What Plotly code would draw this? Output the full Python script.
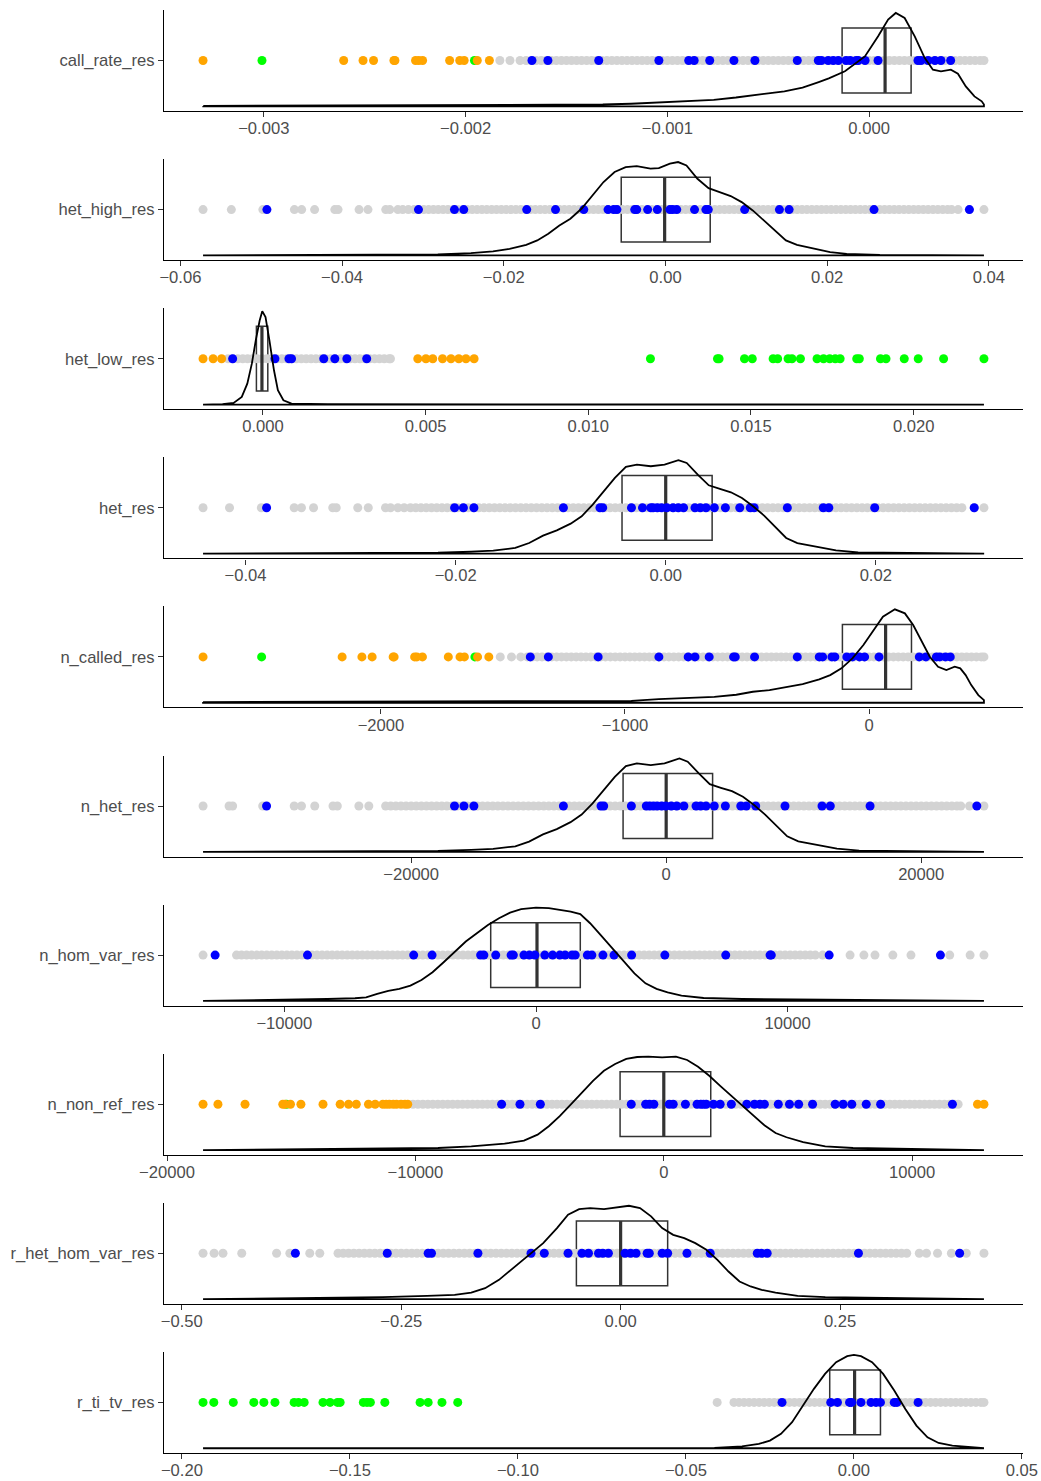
import plotly.graph_objects as go

# ---------------- data ----------------
variables = ["call_rate_res", "het_high_res", "het_low_res", "het_res", "n_called_res",
             "n_het_res", "n_hom_var_res", "n_non_ref_res", "r_het_hom_var_res", "r_ti_tv_res"]

# panel 1: call_rate_res
grey_1 = [-183e-5, -178e-5, -173e-5, -170e-5, -167.5e-5, -165e-5, -162.5e-5, -160e-5, -157.5e-5, -155e-5,
          -152.5e-5, -150e-5, -147.5e-5, -145e-5, -142.5e-5, -140e-5, -137.5e-5, -135e-5, -132.5e-5, -130e-5,
          -127.5e-5, -125e-5, -122.5e-5, -120e-5, -117.5e-5, -115e-5, -112.5e-5, -110e-5, -107.5e-5, -105e-5,
          -102.5e-5, -100e-5, -97.5e-5, -95e-5, -92.5e-5, -90e-5, -87.5e-5, -85e-5, -82.5e-5, -80e-5, -77.5e-5,
          -75e-5, -72.5e-5, -70e-5, -67.5e-5, -65e-5, -62.5e-5, -60e-5, -57.5e-5, -55e-5, -52.5e-5, -50e-5,
          -47.5e-5, -45e-5, -42.5e-5, -40e-5, -37.5e-5, -35e-5, -32.5e-5, -30e-5, -27.5e-5, -25e-5, -22.5e-5,
          -20e-5, -17.5e-5, -15e-5, -12.5e-5, -10e-5, -7.5e-5, -5e-5, -2.5e-5, 0.0, 2.5e-5, 5e-5, 7.5e-5, 10e-5,
          12.5e-5, 15e-5, 17.5e-5, 20e-5, 22.5e-5, 25e-5, 27.5e-5, 30e-5, 32.5e-5, 35e-5, 37.5e-5, 40e-5,
          42.5e-5, 45e-5, 47.5e-5, 50e-5, 52.5e-5, 55e-5, 56.9e-5]
blue_1 = [-0.001671, -0.001592, -0.00134, -0.001042, -0.000894, -0.000867, -0.00079, -0.00067, -0.000566,
          -0.000356, -0.000252, -0.000237, -0.000203, -0.000178, -0.000153, -0.000114, -0.000094, -0.000064,
          -0.000054, -0.00002, 0.000044, 0.000242, 0.000257, 0.000292, 0.000326, 0.000356, 0.000404]
orange_1 = [-0.003301, -0.002604, -0.002508, -0.002456, -0.002355, -0.00235, -0.002248, -0.002232, -0.002213,
            -0.002079, -0.002029, -0.002007, -0.001942, -0.001882]
green_1 = [-0.003009, -0.001956]
box_1 = [-0.00064, -0.000134, 0.000079, 0.000208, 0.000569]
dens_x_1 = [-0.0033, -0.00241, -0.00159, -0.00132, -0.00118, -0.00104, -0.00091, -0.00077, -0.00066, -0.00058,
            -0.0005, -0.00042, -0.00033, -0.00025, -0.0002, -0.00012, -0.000021, 0.0000445, 0.000094, 0.000132,
            0.000176, 0.000226, 0.000275, 0.000316, 0.000356, 0.000405, 0.00044, 0.000479, 0.000522, 0.000558,
            0.000569]
dens_h_1 = [0.005, 0.01, 0.015, 0.02, 0.028, 0.045, 0.053, 0.07, 0.095, 0.12, 0.14, 0.16, 0.2, 0.26, 0.3, 0.375,
            0.535, 0.75, 0.93, 1.0, 0.946, 0.75, 0.52, 0.393, 0.375, 0.393, 0.35, 0.214, 0.107, 0.054, 0.02]
ticks_1 = [-0.003, -0.002, -0.001, 0.0]
labels_1 = ["\u22120.003", "\u22120.002", "\u22120.001", "0.000"]

# panel 2: het_high_res
grey_2 = [-572e-4, -537e-4, -498e-4, -459e-4, -450e-4, -434e-4, -409e-4, -405e-4, -379e-4, -368e-4, -346e-4,
          -341e-4, -331e-4, -325e-4, -318e-4,
          -311e-4, -305e-4, -299e-4, -293e-4, -287e-4, -281e-4, -275e-4, -269e-4, -263e-4, -257e-4, -251e-4,
          -245e-4, -239e-4, -233e-4, -227e-4, -221e-4, -215e-4, -209e-4, -203e-4, -197e-4, -191e-4, -185e-4,
          -179e-4, -173e-4, -167e-4, -161e-4, -155e-4, -149e-4, -143e-4, -137e-4, -131e-4, -125e-4, -119e-4,
          -113e-4, -107e-4, -101e-4, -95e-4, -89e-4, -83e-4, -77e-4, -71e-4, -65e-4, -59e-4, -53e-4, -47e-4,
          -41e-4, -35e-4, -29e-4, -23e-4, -17e-4, -11e-4, -5e-4, 1e-4, 7e-4, 13e-4, 19e-4, 25e-4, 31e-4, 37e-4,
          43e-4, 49e-4, 55e-4, 61e-4, 67e-4, 73e-4, 79e-4, 85e-4, 91e-4, 97e-4, 103e-4, 109e-4, 115e-4, 121e-4,
          127e-4, 133e-4, 139e-4, 145e-4, 151e-4, 157e-4, 163e-4, 169e-4, 175e-4, 181e-4, 187e-4, 193e-4,
          199e-4, 205e-4, 211e-4, 217e-4, 223e-4, 229e-4, 235e-4, 241e-4, 247e-4, 253e-4, 259e-4, 265e-4,
          271e-4, 277e-4, 283e-4, 289e-4, 295e-4, 301e-4, 307e-4, 313e-4, 319e-4, 325e-4, 331e-4, 337e-4,
          343e-4, 349e-4, 354e-4, 362e-4, 376e-4, 394e-4]
blue_2 = [-0.0493, -0.03055, -0.0261, -0.02495, -0.01716, -0.0136, -0.0101, -0.0071, -0.0064, -0.006, -0.0038,
          -0.00355, -0.0022, -0.001, 0.00055, 0.0009, 0.0014, 0.0036, 0.005, 0.0053, 0.0098, 0.0141, 0.0153,
          0.0258, 0.0376]
orange_2 = []
green_2 = []
box_2 = [-0.0219, -0.00547, -0.0001, 0.00554, 0.0219]
dens_x_2 = [-0.0572, -0.035, -0.02816, -0.02406, -0.02133, -0.01928, -0.01722, -0.01586, -0.01449, -0.01312,
            -0.01176, -0.01039, -0.00902, -0.00766, -0.00629, -0.00492, -0.00355, -0.00185, -0.00082, 0.00055,
            0.00157, 0.0026, 0.00396, 0.00533, 0.0067, 0.00807, 0.00943, 0.0108, 0.01217, 0.01353, 0.0149,
            0.01627, 0.01832, 0.02037, 0.02242, 0.02652, 0.0394]
dens_h_2 = [0.0, 0.004, 0.011, 0.025, 0.043, 0.071, 0.114, 0.161, 0.232, 0.321, 0.393, 0.5, 0.643, 0.786, 0.893,
            0.946, 0.957, 0.929, 0.936, 0.982, 1.0, 0.964, 0.821, 0.721, 0.679, 0.636, 0.571, 0.482, 0.375, 0.268,
            0.161, 0.114, 0.079, 0.036, 0.018, 0.007, 0.0]
ticks_2 = [-0.06, -0.04, -0.02, 0.0, 0.02, 0.04]
labels_2 = ["\u22120.06", "\u22120.04", "\u22120.02", "0.00", "0.02", "0.04"]

# panel 3: het_low_res
grey_3 = [-107e-5, -92e-5, -77e-5, -62e-5, -47e-5, -32e-5, -17e-5, -2e-5, 13e-5, 28e-5, 43e-5, 58e-5, 73e-5,
          88e-5, 103e-5, 118e-5, 133e-5, 148e-5, 163e-5, 178e-5, 193e-5, 208e-5, 223e-5, 238e-5, 253e-5, 268e-5,
          283e-5, 298e-5, 313e-5, 328e-5, 343e-5, 358e-5, 373e-5, 388e-5, 392e-5]
blue_3 = [-0.00093, 0.00037, 0.0008, 0.00088, 0.00187, 0.00221, 0.00258, 0.00319]
orange_3 = [-0.00184, -0.00153, -0.00127, 0.00476, 0.00501, 0.00522, 0.00552, 0.00578, 0.00602, 0.00624, 0.00649]
green_3 = [0.01191, 0.01397, 0.01402, 0.0148, 0.01504, 0.01568, 0.01582, 0.01614, 0.01626, 0.01652, 0.01703,
           0.01723, 0.01742, 0.01759, 0.01774, 0.01825, 0.01833, 0.01898, 0.01915, 0.01971, 0.02014, 0.02092,
           0.02216]
box_3 = [-0.00073, -0.0002, -0.00003, 0.00015, 0.00066]
dens_x_3 = [-0.00184, -0.00124, -0.0009, -0.00065, -0.00048, -0.00034, -0.00022, -0.0001, -0.00002, 0.00008,
            0.0002, 0.00034, 0.00046, 0.00063, 0.00088, 0.002, 0.02216]
dens_h_3 = [0.0, 0.004, 0.018, 0.082, 0.224, 0.438, 0.687, 0.9, 1.0, 0.936, 0.687, 0.367, 0.153, 0.046, 0.011,
            0.004, 0.0]
ticks_3 = [0.0, 0.005, 0.01, 0.015, 0.02]
labels_3 = ["0.000", "0.005", "0.010", "0.015", "0.020"]

# panel 4: het_res
grey_4 = [-440.5e-4, -415.3e-4, -385e-4, -353.7e-4, -346.8e-4, -335.3e-4, -317e-4, -313.7e-4, -293.2e-4,
          -283.2e-4, -266.8e-4, -262e-4, -255e-4, -249e-4,
          -243e-4, -238e-4, -233e-4, -228e-4, -223e-4, -218e-4, -213e-4, -208e-4, -203e-4, -198e-4, -193e-4,
          -188e-4, -183e-4, -178e-4, -173e-4, -168e-4, -163e-4, -158e-4, -153e-4, -148e-4, -143e-4, -138e-4,
          -133e-4, -128e-4, -123e-4, -118e-4, -113e-4, -108e-4, -103e-4, -98e-4, -93e-4, -88e-4, -83e-4, -78e-4,
          -73e-4, -68e-4, -63e-4, -58e-4, -53e-4, -48e-4, -43e-4, -38e-4, -33e-4, -28e-4, -23e-4, -18e-4, -13e-4,
          -8e-4, -3e-4, 2e-4, 7e-4, 12e-4, 17e-4, 22e-4, 27e-4, 32e-4, 37e-4, 42e-4, 47e-4, 52e-4, 57e-4, 62e-4,
          67e-4, 72e-4, 77e-4, 82e-4, 87e-4, 92e-4, 97e-4, 102e-4, 107e-4, 112e-4, 117e-4, 122e-4, 127e-4,
          132e-4, 137e-4, 142e-4, 147e-4, 152e-4, 157e-4, 162e-4, 167e-4, 172e-4, 177e-4, 182e-4, 187e-4,
          192e-4, 197e-4, 202e-4, 207e-4, 212e-4, 217e-4, 222e-4, 227e-4, 232e-4, 237e-4, 242e-4, 247e-4,
          252e-4, 257e-4, 262e-4, 267e-4, 272e-4, 277e-4, 282e-4, 294e-4, 303e-4]
blue_4 = [-0.038, -0.0201, -0.01926, -0.01826, -0.00974, -0.00626, -0.006, -0.00326, -0.00221, -0.00142, -0.0012,
          -0.0008, -0.0004, 0.0001, 0.0007, 0.0012, 0.0017, 0.00279, 0.0033, 0.00384, 0.00463, 0.00568, 0.00705,
          0.00805, 0.00842, 0.01158, 0.015, 0.01553, 0.0199, 0.02937]
orange_4 = []
green_4 = []
box_4 = [-0.01684, -0.00416, 0.0, 0.00442, 0.0171]
dens_x_4 = [-0.04405, -0.02695, -0.02168, -0.01853, -0.01642, -0.01432, -0.013, -0.01168, -0.01037, -0.00905,
            -0.008, -0.00695, -0.00589, -0.00484, -0.00379, -0.00274, -0.00142, -0.00011, 0.00121, 0.002,
            0.00305, 0.0041, 0.00516, 0.00621, 0.00726, 0.00832, 0.00937, 0.01042, 0.01147, 0.01253, 0.01411,
            0.01621, 0.01832, 0.02305, 0.03032]
dens_h_4 = [0.0, 0.004, 0.011, 0.021, 0.032, 0.061, 0.114, 0.193, 0.25, 0.321, 0.4, 0.525, 0.668, 0.811, 0.929,
            0.954, 0.936, 0.954, 1.0, 0.971, 0.846, 0.732, 0.693, 0.657, 0.596, 0.507, 0.407, 0.293, 0.168, 0.114,
            0.079, 0.036, 0.014, 0.007, 0.0]
ticks_4 = [-0.04, -0.02, 0.0, 0.02]
labels_4 = ["\u22120.04", "\u22120.02", "0.00", "0.02"]

# panel 5: n_called_res
grey_5 = [-1511, -1465, -1427, -1400, -1380, -1360, -1340, -1320, -1300, -1280, -1260, -1240, -1220, -1200,
          -1180, -1160, -1140, -1120, -1100, -1080, -1060, -1040, -1020, -1000, -980, -960, -940, -920, -900,
          -880, -860, -840, -820, -800, -780, -760, -740, -720, -700, -680, -660, -640, -620, -600, -580, -560,
          -540, -520, -500, -480, -460, -440, -420, -400, -380, -360, -340, -320, -300, -280, -260, -240, -220,
          -200, -180, -160, -140, -120, -100, -80, -60, -40, -20, 0, 20, 40, 60, 80, 100, 120, 140, 160, 180, 200,
          220, 240, 260, 280, 300, 320, 340, 360, 380, 400, 420, 440, 460, 471]
blue_5 = [-1388, -1314, -1110, -861, -741, -713, -655, -555, -548, -469, -294, -204, -190, -152, -140, -91, -68,
          -39, -18, 41, 206, 233, 276, 290, 313, 333]
orange_5 = [-2729, -2159, -2078, -2036, -1950, -1946, -1862, -1853, -1830, -1724, -1676, -1658, -1604, -1558]
green_5 = [-2489, -1615]
box_5 = [-535, -109, 68, 174, 471]
dens_x_5 = [-2729, -1540, -1087, -974, -861, -747, -634, -544, -476, -408, -340, -272, -204, -159, -113, -68, -23,
            23, 57, 106, 147, 181, 215, 249, 283, 317, 351, 374, 396, 419, 448, 469, 471]
dens_h_5 = [0.007, 0.011, 0.018, 0.021, 0.039, 0.05, 0.064, 0.086, 0.118, 0.136, 0.164, 0.2, 0.25, 0.296, 0.368,
            0.475, 0.618, 0.796, 0.921, 1.0, 0.957, 0.832, 0.654, 0.493, 0.386, 0.35, 0.386, 0.368, 0.296, 0.189,
            0.082, 0.039, 0.029]
ticks_5 = [-2000, -1000, 0]
labels_5 = ["\u22122000", "\u22121000", "0"]

# panel 6: n_het_res
grey_6 = [-36320, -34280, -34000, -31640, -29170, -28600, -27560, -26130, -25790, -24100, -23320,
          -22000, -21600, -21200, -20800, -20400, -20000, -19600, -19200, -18800, -18400, -18000, -17600, -17200,
          -16800, -16400, -16000, -15600, -15200, -14800, -14400, -14000, -13600, -13200, -12800, -12400, -12000,
          -11600, -11200, -10800, -10400, -10000, -9600, -9200, -8800, -8400, -8000, -7600, -7200, -6800, -6400,
          -6000, -5600, -5200, -4800, -4400, -4000, -3600, -3200, -2800, -2400, -2000, -1600, -1200, -800, -400,
          0, 400, 800, 1200, 1600, 2000, 2400, 2800, 3200, 3600, 4000, 4400, 4800, 5200, 5600, 6000, 6400, 6800,
          7200, 7600, 8000, 8400, 8800, 9200, 9600, 10000, 10400, 10800, 11200, 11600, 12000, 12400, 12800,
          13200, 13600, 14000, 14400, 14800, 15200, 15600, 16000, 16400, 16800, 17200, 17600, 18000, 18400,
          18800, 19200, 19600, 20000, 20400, 20800, 21200, 21600, 22000, 22400, 22800, 23100, 23790, 24920]
blue_6 = [-31340, -16600, -15860, -15080, -8060, -5110, -4900, -2730, -1560, -1300, -1000, -700, -350, -30, 400,
          830, 1390, 2340, 2690, 3120, 3770, 4640, 5850, 6280, 7020, 9320, 12220, 12870, 15990, 24360]
orange_6 = []
green_6 = []
box_6 = [-13830, -3380, 0, 3640, 14170]
dens_x_6 = [-36320, -22230, -17900, -15300, -13570, -11830, -10750, -9660, -8580, -7500, -6630, -5770, -4900,
            -4030, -3160, -2300, -1210, -130, 1040, 1690, 2560, 3420, 4290, 5160, 6020, 6890, 7760, 8620, 9490,
            10360, 11660, 13390, 15130, 18940, 24920]
dens_h_6 = [0.0, 0.004, 0.011, 0.021, 0.032, 0.06, 0.11, 0.187, 0.244, 0.318, 0.399, 0.519, 0.664, 0.802, 0.919,
            0.947, 0.929, 0.947, 1.0, 0.965, 0.841, 0.724, 0.686, 0.65, 0.59, 0.502, 0.399, 0.286, 0.166, 0.113,
            0.078, 0.035, 0.014, 0.007, 0.0]
ticks_6 = [-20000, 0, 20000]
labels_6 = ["\u221220000", "0", "20000"]

# panel 7: n_hom_var_res
grey_7 = [-13230, -11900, -11700, -11500, -11300, -11100, -10900, -10700, -10500, -10300, -10100, -9900, -9700,
          -9500, -9300, -9100, -8900, -8700, -8500, -8300, -8100, -7900, -7700, -7500, -7300, -7100, -6900,
          -6700, -6500, -6300, -6100, -5900, -5700, -5500, -5300, -5100, -4900, -4700, -4500, -4300, -4100,
          -3900, -3700, -3500, -3300, -3100, -2900, -2700, -2500, -2300, -2100, -1900, -1700, -1500, -1300,
          -1100, -900, -700, -500, -300, -100, 100, 300, 500, 700, 900, 1100, 1300, 1500, 1700, 1900, 2100, 2300,
          2500, 2700, 2900, 3100, 3300, 3500, 3700, 3900, 4100, 4300, 4500, 4700, 4900, 5100, 5300, 5500, 5700,
          5900, 6100, 6300, 6500, 6700, 6900, 7100, 7300, 7500, 7700, 7900, 8100, 8300, 8500, 8700, 8900, 9100,
          9300, 9500, 9700, 9900, 10100, 10300, 10500, 10700, 10900, 11100, 11390, 12480, 13030, 13470, 14180,
          14900, 16440, 17250, 17800]
blue_7 = [-12750, -9080, -4860, -4130, -2200, -2070, -1600, -990, -900, -480, -260, -40, 350, 660, 950, 1160,
          1430, 1560, 2040, 2220, 2660, 3100, 3800, 5120, 7540, 9300, 9350, 11650, 16070]
orange_7 = []
green_7 = []
box_7 = [-7080, -1800, 40, 1760, 7030]
dens_x_7 = [-13230, -9390, -8290, -7190, -6750, -6310, -5870, -5430, -4990, -4550, -4110, -3670, -3230, -2790,
            -2350, -1910, -1470, -1030, -590, 0, 510, 950, 1380, 1760, 2150, 2590, 3030, 3470, 3910, 4350, 4790,
            5230, 5780, 6660, 8200, 11500, 17800]
dens_h_7 = [0.0, 0.011, 0.021, 0.029, 0.039, 0.075, 0.107, 0.129, 0.164, 0.225, 0.307, 0.414, 0.529, 0.636,
            0.725, 0.814, 0.886, 0.946, 0.982, 1.0, 0.993, 0.975, 0.957, 0.929, 0.832, 0.7, 0.564, 0.421, 0.296,
            0.189, 0.129, 0.093, 0.057, 0.032, 0.021, 0.014, 0.007]
ticks_7 = [-10000, 0, 10000]
labels_7 = ["\u221210000", "0", "10000"]

# panel 8: n_non_ref_res
grey_8 = [-10100, -9900, -9700, -9500, -9300, -9100, -8900, -8700, -8500, -8300, -8100, -7900, -7700, -7500,
          -7300, -7100, -6900, -6700, -6500, -6300, -6100, -5900, -5700, -5500, -5300, -5100, -4900, -4700,
          -4500, -4300, -4100, -3900, -3700, -3500, -3300, -3100, -2900, -2700, -2500, -2300, -2100, -1900,
          -1700, -1500, -1300, -1100, -900, -700, -500, -300, -100, 100, 300, 500, 700, 900, 1100, 1300, 1500,
          1700, 1900, 2100, 2300, 2500, 2700, 2900, 3100, 3300, 3500, 3700, 3900, 4100, 4300, 4500, 4700, 4900,
          5100, 5300, 5500, 5700, 5900, 6100, 6300, 6500, 6700, 6900, 7100, 7300, 7500, 7700, 7900, 8100, 8300,
          8500, 8700, 8900, 9100, 9300, 9500, 9700, 9900, 10100, 10300, 10500, 10700, 10900, 11100, 11300,
          11500, 11700, 11850]
blue_8 = [-6530, -5790, -4970, -1310, -730, -580, -400, 220, 380, 870, 1340, 1490, 1600, 1710, 2000, 2270, 2720,
          3340, 3650, 3870, 4050, 4610, 5060, 5430, 5990, 6900, 7220, 7570, 8150, 8730, 11620]
orange_8 = [-18550, -17950, -16860, -15340, -15250, -15030, -14610, -13720, -13030, -12690, -12380, -11890,
            -11620, -11310, -11180, -11050, -10890, -10760, -10580, -10420, -10310, 12630, 12890]
green_8 = [-15190]
box_8 = [-7190, -1760, 0, 1890, 6840]
dens_x_8 = [-18550, -11310, -9090, -7750, -6410, -5630, -5080, -4630, -4190, -3740, -3300, -2850, -2410, -1960,
            -1510, -1070, -620, -70, 490, 940, 1380, 1830, 2270, 2720, 3160, 3610, 4050, 4500, 4940, 5610, 6500,
            7620, 9840, 12890]
dens_h_8 = [0.0, 0.011, 0.022, 0.04, 0.068, 0.101, 0.165, 0.255, 0.363, 0.489, 0.615, 0.741, 0.849, 0.921, 0.975,
            0.996, 1.0, 0.993, 1.0, 0.964, 0.892, 0.795, 0.687, 0.579, 0.471, 0.363, 0.266, 0.183, 0.137, 0.086,
            0.04, 0.022, 0.011, 0.0]
ticks_8 = [-20000, -10000, 0, 10000]
labels_8 = ["\u221220000", "\u221210000", "0", "10000"]

# panel 9: r_het_hom_var_res
grey_9 = [-475.8e-3, -463.2e-3, -453.1e-3, -431.7e-3, -392e-3, -376.9e-3, -354.2e-3, -342.8e-3,
          -322e-3, -316e-3, -310e-3, -304e-3, -298e-3, -292e-3, -286e-3, -280e-3, -274e-3, -268e-3, -262e-3,
          -256e-3, -250e-3, -244e-3, -238e-3, -232e-3, -226e-3, -220e-3, -214e-3, -208e-3, -202e-3, -196e-3,
          -190e-3, -184e-3, -178e-3, -172e-3, -166e-3, -160e-3, -154e-3, -148e-3, -142e-3, -136e-3, -130e-3,
          -124e-3, -118e-3, -112e-3, -106e-3, -100e-3, -94e-3, -88e-3, -82e-3, -76e-3, -70e-3, -64e-3, -58e-3,
          -52e-3, -46e-3, -40e-3, -34e-3, -28e-3, -22e-3, -16e-3, -10e-3, -4e-3, 2e-3, 8e-3, 14e-3, 20e-3, 26e-3,
          32e-3, 38e-3, 44e-3, 50e-3, 56e-3, 62e-3, 68e-3, 74e-3, 80e-3, 86e-3, 92e-3, 98e-3, 104e-3, 110e-3,
          116e-3, 122e-3, 128e-3, 134e-3, 140e-3, 146e-3, 152e-3, 158e-3, 164e-3, 170e-3, 176e-3, 182e-3,
          188e-3, 194e-3, 200e-3, 206e-3, 212e-3, 218e-3, 224e-3, 230e-3, 236e-3, 242e-3, 248e-3, 254e-3,
          260e-3, 266e-3, 272e-3, 278e-3, 284e-3, 290e-3, 296e-3, 302e-3, 308e-3, 314e-3, 320e-3, 326e-3,
          340.3e-3, 348.5e-3, 361.1e-3, 376.9e-3, 393.9e-3, 414e-3]
blue_9 = [-0.3706, -0.2659, -0.2193, -0.2155, -0.1626, -0.1021, -0.087, -0.0599, -0.0441, -0.0366, -0.0252,
          -0.0202, -0.0139, 0.005, 0.0113, 0.0176, 0.0302, 0.0327, 0.0473, 0.0536, 0.0756, 0.1021, 0.1557, 0.1607,
          0.167, 0.271, 0.3863]
orange_9 = []
green_9 = []
box_9 = [-0.2029, -0.0504, 0.0, 0.0536, 0.2048]
dens_x_9 = [-0.4758, -0.334, -0.271, -0.2206, -0.1891, -0.1702, -0.1544, -0.1386, -0.1229, -0.1071, -0.0882,
            -0.0725, -0.0599, -0.0473, -0.0347, -0.0189, -0.0032, 0.0095, 0.0221, 0.0347, 0.0473, 0.0599, 0.0725,
            0.0851, 0.0977, 0.1103, 0.1229, 0.1355, 0.1481, 0.1607, 0.1765, 0.2017, 0.2332, 0.2962, 0.414]
dens_h_9 = [0.0, 0.011, 0.021, 0.036, 0.046, 0.071, 0.118, 0.207, 0.332, 0.457, 0.6, 0.761, 0.904, 0.964, 0.975,
            0.964, 0.986, 1.0, 0.975, 0.886, 0.761, 0.689, 0.654, 0.6, 0.529, 0.421, 0.296, 0.189, 0.136, 0.1,
            0.071, 0.036, 0.021, 0.014, 0.007]
ticks_9 = [-0.5, -0.25, 0.0, 0.25]
labels_9 = ["\u22120.50", "\u22120.25", "0.00", "0.25"]

# panel 10: r_ti_tv_res
grey_10 = [-407e-4, -357e-4, -342e-4, -327e-4, -312e-4, -297e-4, -282e-4, -267e-4, -252e-4, -237e-4, -222e-4,
           -207e-4, -192e-4, -177e-4, -162e-4, -147e-4, -132e-4, -117e-4, -102e-4, -87e-4, -72e-4, -57e-4,
           -42e-4, -27e-4, -12e-4, 3e-4, 18e-4, 33e-4, 48e-4, 63e-4, 78e-4, 93e-4, 108e-4, 123e-4, 138e-4,
           153e-4, 168e-4, 183e-4, 198e-4, 213e-4, 228e-4, 243e-4, 258e-4, 273e-4, 288e-4, 303e-4, 318e-4,
           333e-4, 348e-4, 363e-4, 378e-4, 387e-4]
blue_10 = [-0.0214, -0.0069, -0.0049, -0.0013, -0.0007, 0.0021, 0.0051, 0.0066, 0.0079, 0.012, 0.0128, 0.0191]
orange_10 = []
green_10 = [-0.1937, -0.1905, -0.1847, -0.1786, -0.1756, -0.1723, -0.1666, -0.1653, -0.1636, -0.158, -0.1559,
            -0.1537, -0.1529, -0.146, -0.1449, -0.1439, -0.1396, -0.1291, -0.1267, -0.1226, -0.1179]
box_10 = [-0.0296, -0.0072, 0.0002, 0.0079, 0.0301]
dens_x_10 = [-0.1937, -0.0415, -0.0333, -0.0283, -0.025, -0.0217, -0.0184, -0.0151, -0.0119, -0.0086, -0.0053,
             -0.002, 0.0, 0.0021, 0.0054, 0.0087, 0.012, 0.0153, 0.0186, 0.0219, 0.0252, 0.0293, 0.0342, 0.0387]
dens_h_10 = [0.0, 0.004, 0.021, 0.046, 0.082, 0.154, 0.279, 0.457, 0.636, 0.796, 0.921, 0.986, 1.0, 0.986, 0.921,
             0.796, 0.618, 0.421, 0.243, 0.118, 0.057, 0.029, 0.014, 0.007]
ticks_10 = [-0.2, -0.15, -0.1, -0.05, 0.0, 0.05]
labels_10 = ["\u22120.20", "\u22120.15", "\u22120.10", "\u22120.05", "0.00", "0.05"]

panels = [
    (grey_1, blue_1, orange_1, green_1, box_1, dens_x_1, dens_h_1, ticks_1, labels_1),
    (grey_2, blue_2, orange_2, green_2, box_2, dens_x_2, dens_h_2, ticks_2, labels_2),
    (grey_3, blue_3, orange_3, green_3, box_3, dens_x_3, dens_h_3, ticks_3, labels_3),
    (grey_4, blue_4, orange_4, green_4, box_4, dens_x_4, dens_h_4, ticks_4, labels_4),
    (grey_5, blue_5, orange_5, green_5, box_5, dens_x_5, dens_h_5, ticks_5, labels_5),
    (grey_6, blue_6, orange_6, green_6, box_6, dens_x_6, dens_h_6, ticks_6, labels_6),
    (grey_7, blue_7, orange_7, green_7, box_7, dens_x_7, dens_h_7, ticks_7, labels_7),
    (grey_8, blue_8, orange_8, green_8, box_8, dens_x_8, dens_h_8, ticks_8, labels_8),
    (grey_9, blue_9, orange_9, green_9, box_9, dens_x_9, dens_h_9, ticks_9, labels_9),
    (grey_10, blue_10, orange_10, green_10, box_10, dens_x_10, dens_h_10, ticks_10, labels_10),
]

# ---------------- figure ----------------
W, H = 1041, 1481
LEFT, RIGHT = 164, 1023
TOP0, PANEL_H, PITCH = 10, 101, 149.1
Y_LO, Y_HI = 0.4, 1.6
BASE, SCALE = 0.455, 1.11
BOX_W = 0.77
FONT = "Liberation Sans, Arial, Helvetica, sans-serif"
TXT = "#4D4D4D"
FS = 16.6
MS = 9

fig = go.Figure()
layout = dict(width=W, height=H, margin=dict(l=0, r=0, t=0, b=0, autoexpand=False),
              paper_bgcolor="white", plot_bgcolor="white", showlegend=False,
              font=dict(family=FONT, size=FS, color=TXT))

for i, (grey, blue, orange, green, box, dx, dh, ticks, labels) in enumerate(panels):
    n = i + 1
    xa = "x" if n == 1 else f"x{n}"
    ya = "y" if n == 1 else f"y{n}"
    allv = grey + blue + orange + green
    lo, hi = min(allv), max(allv)
    pad = 0.05 * (hi - lo)
    top = TOP0 + PITCH * i
    bot = top + PANEL_H
    layout["xaxis" if n == 1 else f"xaxis{n}"] = dict(
        domain=[LEFT / W, RIGHT / W], anchor=ya, range=[lo - pad, hi + pad], automargin=False,
        showgrid=False, zeroline=False, showline=True, linecolor="black", linewidth=1.4,
        ticks="outside", ticklen=5, tickwidth=1.2, tickcolor="#333333", ticklabelstandoff=-3,
        tickvals=ticks, ticktext=labels, tickfont=dict(size=FS, color=TXT, family=FONT))
    layout["yaxis" if n == 1 else f"yaxis{n}"] = dict(
        domain=[1 - bot / H, 1 - top / H], anchor=xa, range=[Y_LO, Y_HI], automargin=False,
        showgrid=False, zeroline=False, showline=True, linecolor="black", linewidth=1.4,
        ticks="outside", ticklen=5, tickwidth=1.2, tickcolor="#333333",
        tickvals=[1], ticktext=[variables[i]], tickfont=dict(size=FS, color=TXT, family=FONT))

    # grey points (all samples)
    fig.add_trace(go.Scatter(x=grey, y=[1] * len(grey), mode="markers", xaxis=xa, yaxis=ya,
                             marker=dict(size=MS, color="#D3D3D3", line=dict(width=0)), hoverinfo="skip"))
    # boxplot
    lf, q1, med, q3, uf = box
    fig.add_trace(go.Box(y=[1], q1=[q1], median=[med], q3=[q3], lowerfence=[lf], upperfence=[uf],
                         orientation="h", width=BOX_W, whiskerwidth=0, boxpoints=False,
                         fillcolor="rgba(0,0,0,0)", line=dict(color="#333333", width=1.5),
                         xaxis=xa, yaxis=ya, hoverinfo="skip"))
    fig.add_trace(go.Scatter(x=[med, med], y=[1 - BOX_W / 2, 1 + BOX_W / 2], mode="lines", xaxis=xa, yaxis=ya,
                             line=dict(color="#333333", width=3.2), hoverinfo="skip"))
    # coloured points
    for vals, col in ((green, "#00FF00"), (blue, "#0000FF"), (orange, "#FFA500")):
        if vals:
            fig.add_trace(go.Scatter(x=vals, y=[1] * len(vals), mode="markers", xaxis=xa, yaxis=ya,
                                     marker=dict(size=MS, color=col, line=dict(width=0)), hoverinfo="skip"))
    # density outline
    px = list(dx) + [dx[-1], dx[0], dx[0]]
    py = [BASE + h * SCALE for h in dh] + [BASE, BASE, BASE + dh[0] * SCALE]
    fig.add_trace(go.Scatter(x=px, y=py, mode="lines", xaxis=xa, yaxis=ya,
                             line=dict(color="black", width=1.8), hoverinfo="skip"))

fig.update_layout(**layout)
fig.write_html("out.html")
